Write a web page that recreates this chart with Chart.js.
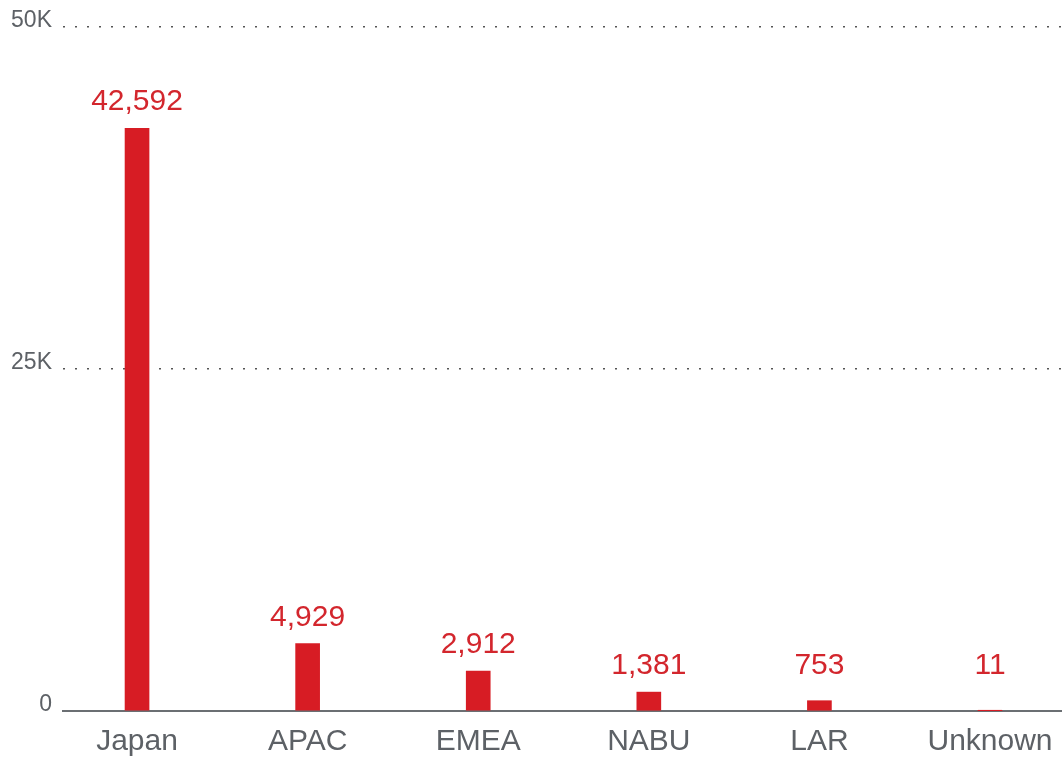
<!DOCTYPE html>
<html>
<head>
<meta charset="utf-8">
<script src="https://cdn.jsdelivr.net/npm/chart.js@4"></script>
<style>
  body { margin: 0; background: #fff; overflow: hidden; }
  canvas { display: block; }
</style>
</head>
<body>
<canvas id="myChart" width="1062" height="759"></canvas>
<script>
const regions = ['Japan', 'APAC', 'EMEA', 'NABU', 'LAR', 'Unknown'];
const valores = [42592, 4929, 2912, 1381, 753, 11];
const yTicks = [0, 25000, 50000];
const yTickLabels = ['0', '25K', '50K'];

const rojo = '#d71c24';
const gris = '#5d6166';

// numbers over the bars
const etiquetas = {
  id: 'etiquetas',
  afterDatasetsDraw(chart) {
    const c = chart.ctx;
    const meta = chart.getDatasetMeta(0);
    c.save();
    c.fillStyle = '#d3262d';
    c.font = '30px "Liberation Sans", Arial, sans-serif';
    c.textAlign = 'center';
    c.textBaseline = 'alphabetic';
    meta.data.forEach((bar, i) => {
      const y = Math.min(bar.y - 18, bar.base - 36);
      c.fillText(valores[i].toLocaleString('en-US'), bar.x, y);
    });
    c.restore();
  }
};

const ctx = document.getElementById('myChart');

new Chart(ctx, {
  type: 'bar',
  data: {
    datasets: [{
      data: valores.map((v, i) => ({ x: i, y: v })),
      backgroundColor: rojo,
      barThickness: 24,
      borderWidth: 0
    }]
  },
  options: {
    responsive: false,
    animation: false,
    layout: { padding: { top: 27, right: 0, bottom: 2, left: 0 } },
    plugins: { legend: { display: false }, tooltip: { enabled: false } },
    scales: {
      x: {
        type: 'linear',
        offset: false,
        min: -0.434,
        max: 5.422,
        afterFit(scale) {
          scale.height = 46;
          scale.paddingLeft = 0;
          scale.paddingRight = 0;
        },
        grid: { display: false, drawTicks: false },
        border: { display: true, color: '#6b6f73', width: 2 },
        ticks: {
          stepSize: 1,
          includeBounds: false,
          autoSkip: false,
          maxRotation: 0,
          padding: 13,
          color: gris,
          font: { family: '"Liberation Sans", Arial, sans-serif', size: 30 },
          callback: (v) => regions[v] ?? ''
        }
      },
      y: {
        min: 0,
        max: 50000,
        afterFit(scale) { scale.width = 63; },
        afterBuildTicks(scale) { scale.ticks = yTicks.map(v => ({ value: v })); },
        grid: {
          drawTicks: false,
          color: (c) => c.tick && c.tick.value === 0 ? 'rgba(0,0,0,0)' : '#555',
          lineWidth: 1.5
        },
        border: { display: false, dash: [2, 10] },
        ticks: {
          padding: 11,
          labelOffset: -6,
          color: gris,
          font: { family: '"Liberation Sans", Arial, sans-serif', size: 23 },
          callback: (v) => yTickLabels[yTicks.indexOf(v)]
        }
      }
    }
  },
  plugins: [etiquetas]
});
</script>
</body>
</html>
